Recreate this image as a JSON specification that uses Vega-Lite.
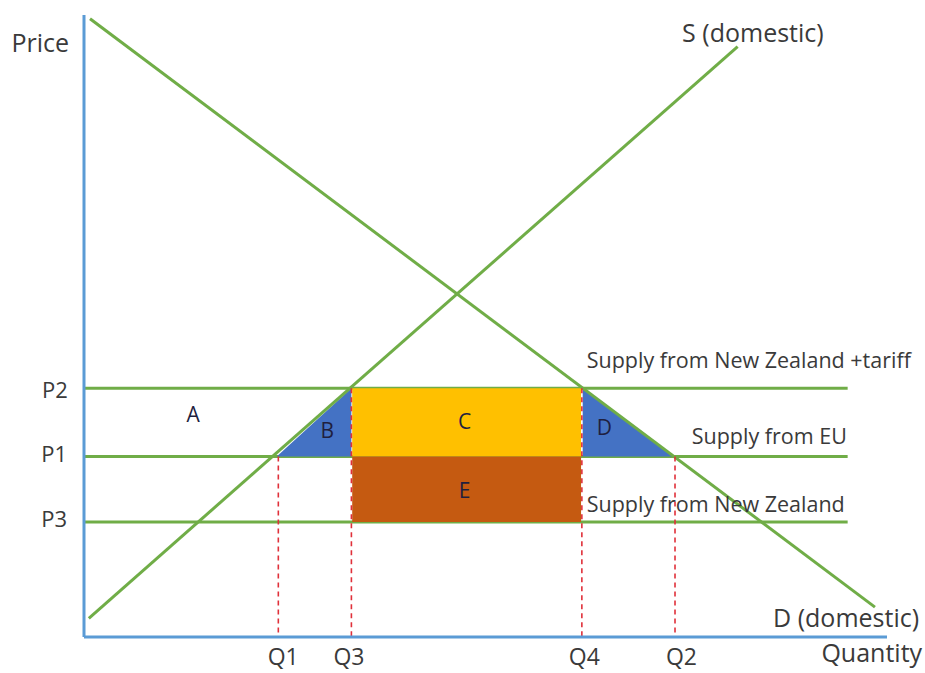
{
  "$schema": "https://vega.github.io/schema/vega-lite/v6.json",
  "width": 803,
  "height": 622,
  "autosize": {"type": "none"},
  "padding": {"left": 84, "top": 15, "right": 38, "bottom": 36},
  "background": "white",
  "config": {"view": {"stroke": null}},
  "datasets": {
    "axes": [
      {"name": "price axis", "q": 0, "p": 0, "q2": 0, "p2": 100},
      {"name": "quantity axis", "q": 0, "p": 0, "q2": 100, "p2": 0}
    ],
    "hlines": [
      {"name": "P2", "q": 0, "q2": 95.1, "p": 40},
      {"name": "P1", "q": 0, "q2": 95.1, "p": 29},
      {"name": "P3", "q": 0, "q2": 95.1, "p": 18.5}
    ],
    "rects": [
      {"name": "C", "q": 33.4, "q2": 61.9, "p": 40, "p2": 29},
      {"name": "E", "q": 33.4, "q2": 61.9, "p": 29, "p2": 18.5}
    ],
    "triangles": [
      {"name": "B", "q": 24.0, "p": 29},
      {"name": "B", "q": 33.3, "p": 40},
      {"name": "D", "q": 62.1, "p": 40},
      {"name": "D", "q": 73.4, "p": 29}
    ],
    "curves": [
      {"name": "D (domestic)", "q": 0.75, "p": 99.4},
      {"name": "D (domestic)", "q": 98.5, "p": 4.8},
      {"name": "S (domestic)", "q": 0.6, "p": 3.0},
      {"name": "S (domestic)", "q": 81.4, "p": 94.9}
    ],
    "vlines": [
      {"name": "Q1", "q": 24.2, "p": 29, "p2": 0},
      {"name": "Q3", "q": 33.3, "p": 40, "p2": 0},
      {"name": "Q4", "q": 62.0, "p": 40, "p2": 0},
      {"name": "Q2", "q": 73.6, "p": 29, "p2": 0}
    ],
    "bigLabels": [
      {"text": "Price", "q": -5.45, "p": 95.3},
      {"text": "S (domestic)", "q": 83.3, "p": 97.0},
      {"text": "D (domestic)", "q": 94.9, "p": 2.9},
      {"text": "Quantity", "q": 98.1, "p": -2.7}
    ],
    "quantityLabels": [
      {"text": "Q1", "q": 24.8, "p": -3.3},
      {"text": "Q3", "q": 33.0, "p": -3.3},
      {"text": "Q4", "q": 62.3, "p": -3.3},
      {"text": "Q2", "q": 74.4, "p": -3.3}
    ],
    "priceLabels": [
      {"text": "P2", "q": -2.0, "p": 39.5},
      {"text": "P1", "q": -2.1, "p": 29.3},
      {"text": "P3", "q": -2.1, "p": 18.8}
    ],
    "areaLabels": [
      {"text": "A", "q": 13.6, "p": 35.5},
      {"text": "B", "q": 30.3, "p": 33.0},
      {"text": "C", "q": 47.4, "p": 34.4},
      {"text": "D", "q": 64.8, "p": 33.4},
      {"text": "E", "q": 47.4, "p": 23.3}
    ],
    "supplyLeft": [
      {"text": "Supply from New Zealand +tariff", "q": 62.6, "p": 44.2},
      {"text": "Supply from New Zealand", "q": 62.6, "p": 21.1}
    ],
    "supplyRight": [
      {"text": "Supply from EU", "q": 95.0, "p": 32.0}
    ]
  },
  "encoding": {
    "x": {"field": "q", "type": "quantitative", "scale": {"domain": [0, 100], "nice": false, "zero": false}, "axis": null},
    "y": {"field": "p", "type": "quantitative", "scale": {"domain": [0, 100], "nice": false, "zero": false}, "axis": null}
  },
  "layer": [
    {
      "data": {"name": "hlines"},
      "mark": {"type": "rule", "color": "#70AD47", "strokeWidth": 3},
      "encoding": {"x2": {"field": "q2"}, "detail": {"field": "name"}}
    },
    {
      "data": {"name": "rects"},
      "mark": {"type": "rect"},
      "encoding": {
        "x2": {"field": "q2"},
        "y2": {"field": "p2"},
        "color": {"field": "name", "type": "nominal", "scale": {"domain": ["C", "E"], "range": ["#FFC000", "#C55A11"]}, "legend": null}
      }
    },
    {
      "data": {"name": "triangles"},
      "mark": {"type": "area", "color": "#4472C4", "opacity": 1},
      "encoding": {"y2": {"datum": 29}, "detail": {"field": "name"}}
    },
    {
      "data": {"name": "curves"},
      "mark": {"type": "line", "color": "#70AD47", "strokeWidth": 3},
      "encoding": {"detail": {"field": "name"}}
    },
    {
      "data": {"name": "vlines"},
      "mark": {"type": "rule", "color": "#E0303A", "strokeWidth": 1.6, "strokeDash": [5, 4]},
      "encoding": {"y2": {"field": "p2"}, "detail": {"field": "name"}}
    },
    {
      "data": {"name": "axes"},
      "mark": {"type": "rule", "color": "#5B9BD5", "strokeWidth": 3},
      "encoding": {"x2": {"field": "q2"}, "y2": {"field": "p2"}, "detail": {"field": "name"}}
    },
    {
      "data": {"name": "bigLabels"},
      "mark": {"type": "text", "font": "Open Sans", "fontSize": 25, "color": "#3A3A3A", "align": "center", "baseline": "middle"},
      "encoding": {"text": {"field": "text"}}
    },
    {
      "data": {"name": "quantityLabels"},
      "mark": {"type": "text", "font": "Open Sans", "fontSize": 23, "color": "#3A3A3A", "align": "center", "baseline": "middle"},
      "encoding": {"text": {"field": "text"}}
    },
    {
      "data": {"name": "priceLabels"},
      "mark": {"type": "text", "font": "Open Sans", "fontSize": 22, "color": "#3A3A3A", "align": "right", "baseline": "middle"},
      "encoding": {"text": {"field": "text"}}
    },
    {
      "data": {"name": "areaLabels"},
      "mark": {"type": "text", "font": "Open Sans", "fontSize": 21, "color": "#1F1F3F", "align": "center", "baseline": "middle"},
      "encoding": {"text": {"field": "text"}}
    },
    {
      "data": {"name": "supplyLeft"},
      "mark": {"type": "text", "font": "Open Sans", "fontSize": 21.5, "color": "#3A3A3A", "align": "left", "baseline": "middle"},
      "encoding": {"text": {"field": "text"}}
    },
    {
      "data": {"name": "supplyRight"},
      "mark": {"type": "text", "font": "Open Sans", "fontSize": 21.5, "color": "#3A3A3A", "align": "right", "baseline": "middle"},
      "encoding": {"text": {"field": "text"}}
    }
  ]
}
